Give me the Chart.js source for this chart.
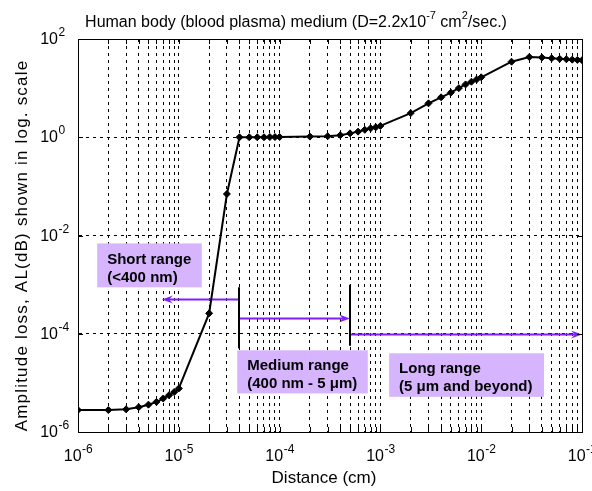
<!DOCTYPE html>
<html lang="en">
<head>
  <meta charset="UTF-8">
  <title>amplitude-loss-vs-distance</title>
  <script src="https://cdn.jsdelivr.net/npm/chart.js@4.4.6/dist/chart.umd.min.js"></script>
  <style>
    body { margin: 0; background: #ffffff; }
  </style>
</head>
<body>
<canvas id="myChart" width="592" height="491"></canvas>
<script>
// distance (cm) -- one point per 1..9 x 10^k
var distance = [
  1e-6, 2e-6, 3e-6, 4e-6, 5e-6, 6e-6, 7e-6, 8e-6, 9e-6,
  1e-5, 2e-5, 3e-5, 4e-5, 5e-5, 6e-5, 7e-5, 8e-5, 9e-5,
  1e-4, 2e-4, 3e-4, 4e-4, 5e-4, 6e-4, 7e-4, 8e-4, 9e-4,
  1e-3, 2e-3, 3e-3, 4e-3, 5e-3, 6e-3, 7e-3, 8e-3, 9e-3,
  1e-2, 2e-2, 3e-2, 4e-2, 5e-2, 6e-2, 7e-2, 8e-2, 9e-2,
  1e-1
];
// amplitude loss AL(dB)
var ampLoss = [
  2.8e-6, 2.8e-6, 2.9e-6, 3.2e-6, 3.6e-6, 4.1e-6, 4.8e-6, 5.6e-6, 6.5e-6,
  7.7e-6, 2.6e-4, 0.07, 1.0, 1.0, 1.0, 1.0, 1.01, 1.01,
  1.01, 1.03, 1.05, 1.1, 1.2, 1.3, 1.42, 1.52, 1.6,
  1.7, 3.1, 4.9, 6.5, 8.1, 10.0, 11.9, 13.5, 15.0,
  16.6, 34.5, 43.0, 42.0, 40.5, 39.5, 38.7, 38.0, 37.5,
  37.0
];
// grid lines / tick labels
var xGrid = distance;
var xLabelExp = [-6, -5, -4, -3, -2, -1];
var yGrid = [1e-6, 1e-4, 1e-2, 1e0, 1e2];
var yLabelExp = [-6, -4, -2, 0, 2];

// texts
var titleParts = [['Human body (blood plasma) medium (D=2.2x10', 0], ['-7', 1], [' cm', 0], ['2', 1], ['/sec.)', 0]];
var xTitle = 'Distance (cm)';
var yTitle = 'Amplitude loss, AL(dB) shown in log. scale';

// range annotations (data coordinates)
var rangeText = [
  ['Short range', '(<400 nm)'],
  ['Medium range', '(400 nm - 5 \u03bcm)'],
  ['Long range', '(5 \u03bcm and beyond)']
];
var rangeBox = [   // x left, x right, y top, y bottom
  [1.55e-6, 1.69e-5, 6.9e-3, 8.8e-4],
  [3.8e-5, 7.5e-4, 4.6e-5, 6.1e-6],
  [1.22e-3, 4.2e-2, 4.0e-5, 5.2e-6]
];
var rangeArrow = [ // x from, x to, y
  [4e-5, 6.8e-6, 5.2e-4],
  [4e-5, 5e-4, 2.1e-4],
  [5e-4, 1e-1, 1e-4]
];
var boundary = [   // x, y top, y bottom
  [4e-5, 8.8e-4, 5.0e-5],
  [5e-4, 1.0e-3, 5.7e-5]
];

var FONT = '"Liberation Sans", Arial, sans-serif';
var PURPLE = '#7f1fff';
var BOXFILL = '#d7b5fe';

function drawPow(ctx, x, y, exp, align) {
  ctx.font = '16px ' + FONT;
  var w1 = ctx.measureText('10').width;
  ctx.font = '12px ' + FONT;
  var e = String(exp);
  var w2 = ctx.measureText(e).width;
  var x0 = align === 'center' ? x - (w1 + w2) / 2 : x - w1;
  ctx.textAlign = 'left';
  ctx.textBaseline = 'alphabetic';
  ctx.font = '16px ' + FONT;
  ctx.fillText('10', x0, y);
  ctx.font = '12px ' + FONT;
  ctx.fillText(e, x0 + w1 + 0.5, y - 8);
}

var rangePlugin = {
  id: 'ranges',
  beforeDatasetsDraw: function(chart) {
    var ctx = chart.ctx, xs = chart.scales.x, ys = chart.scales.y;
    ctx.save();
    // boxes
    rangeBox.forEach(function(b, i) {
      var l = xs.getPixelForValue(b[0]), r = xs.getPixelForValue(b[1]);
      var t = ys.getPixelForValue(b[2]), bt = ys.getPixelForValue(b[3]);
      ctx.fillStyle = BOXFILL;
      ctx.fillRect(l, t, r - l, bt - t);
      ctx.fillStyle = '#000';
      ctx.font = 'bold 15px ' + FONT;
      ctx.textAlign = 'left';
      ctx.textBaseline = 'middle';
      ctx.fillText(rangeText[i][0], l + 10, t + 16);
      ctx.fillText(rangeText[i][1], l + 10, t + 34);
    });
    // arrows
    rangeArrow.forEach(function(a) {
      var x1 = xs.getPixelForValue(a[0]), x2 = xs.getPixelForValue(a[1]);
      var y = Math.round(ys.getPixelForValue(a[2])) + 0.5;
      var dir = x2 > x1 ? 1 : -1;
      ctx.strokeStyle = PURPLE;
      ctx.lineWidth = 2;
      ctx.beginPath();
      ctx.moveTo(x1, y);
      ctx.lineTo(x2 - dir * 6, y);
      ctx.stroke();
      ctx.fillStyle = PURPLE;
      ctx.beginPath();
      ctx.moveTo(x2, y);
      ctx.lineTo(x2 - dir * 11, y - 4);
      ctx.lineTo(x2 - dir * 7, y);
      ctx.lineTo(x2 - dir * 11, y + 4);
      ctx.closePath();
      ctx.fill();
    });
    // range boundaries
    boundary.forEach(function(b) {
      var x = Math.round(xs.getPixelForValue(b[0]));
      ctx.strokeStyle = '#000';
      ctx.lineWidth = 2;
      ctx.beginPath();
      ctx.moveTo(x, ys.getPixelForValue(b[1]));
      ctx.lineTo(x, ys.getPixelForValue(b[2]));
      ctx.stroke();
    });
    ctx.restore();
  }
};

var framePlugin = {
  id: 'frame',
  afterDraw: function(chart) {
    var ctx = chart.ctx, a = chart.chartArea, xs = chart.scales.x, ys = chart.scales.y;
    ctx.save();
    ctx.strokeStyle = '#000';
    ctx.lineWidth = 1;
    ctx.strokeRect(Math.round(a.left) + 0.5, Math.round(a.top) + 0.5,
      Math.round(a.right - a.left), Math.round(a.bottom - a.top));
    // inward tick marks
    ctx.beginPath();
    xGrid.forEach(function(v) {
      var x = Math.round(xs.getPixelForValue(v)) + 0.5;
      ctx.moveTo(x, a.bottom); ctx.lineTo(x, a.bottom - 5);
      ctx.moveTo(x, a.top); ctx.lineTo(x, a.top + 5);
    });
    yGrid.forEach(function(v) {
      var y = Math.round(ys.getPixelForValue(v)) + 0.5;
      ctx.moveTo(a.left, y); ctx.lineTo(a.left + 5, y);
      ctx.moveTo(a.right, y); ctx.lineTo(a.right - 5, y);
    });
    ctx.stroke();
    // tick labels with superscript exponents
    ctx.fillStyle = '#000';
    xLabelExp.forEach(function(e) {
      drawPow(ctx, xs.getPixelForValue(Math.pow(10, e)), a.bottom + 29, e, 'center');
    });
    yLabelExp.forEach(function(e) {
      drawPow(ctx, a.left - 20, ys.getPixelForValue(Math.pow(10, e)) + 5, e, 'right');
    });

    // chart title, with raised exponents
    ctx.textAlign = 'left';
    ctx.textBaseline = 'alphabetic';
    var w = 0;
    titleParts.forEach(function(p) {
      ctx.font = (p[1] ? '11px ' : '16px ') + FONT;
      w += ctx.measureText(p[0]).width;
    });
    var tx = chart.width / 2 - w / 2;
    titleParts.forEach(function(p) {
      ctx.font = (p[1] ? '11px ' : '16px ') + FONT;
      ctx.fillText(p[0], tx, p[1] ? 19 : 27);
      tx += ctx.measureText(p[0]).width;
    });

    // axis titles
    ctx.font = '17px ' + FONT;
    ctx.textAlign = 'center';
    ctx.textBaseline = 'middle';
    ctx.fillText(xTitle, (a.left + a.right) / 2 - 6, 478);
    ctx.save();
    ctx.translate(22, (a.top + a.bottom) / 2 + 10);
    ctx.rotate(-Math.PI / 2);
    ctx.letterSpacing = '1.2px';
    ctx.fillText(yTitle, 0, 0);
    ctx.restore();
    ctx.restore();
  }
};

var points = distance.map(function(d, i) { return { x: d, y: ampLoss[i] }; });

var ctx = document.getElementById('myChart');
var myChart = new Chart(ctx, {
  type: 'line',
  data: {
    datasets: [{
      label: 'AL',
      data: points,
      borderColor: '#000',
      backgroundColor: '#000',
      borderWidth: 2,
      pointStyle: 'rectRot',
      pointRadius: 3.5,
      pointBackgroundColor: '#000',
      pointBorderColor: '#000',
      pointBorderWidth: 1,
      tension: 0,
      fill: false
    }]
  },
  options: {
    responsive: false,
    animation: false,
    devicePixelRatio: 1,
    layout: { padding: { left: 0, right: 10, top: 39, bottom: 0 } },
    plugins: {
      legend: { display: false },
      tooltip: { enabled: false },
      title: { display: false }
    },
    scales: {
      x: {
        type: 'logarithmic',
        min: 1e-6,
        max: 1e-1,
        afterBuildTicks: function(s) { s.ticks = xGrid.map(function(v) { return { value: v }; }); },
        afterFit: function(s) { s.height = 59; s.paddingLeft = 0; s.paddingRight = 0; },
        ticks: { display: false },
        grid: { color: '#000', lineWidth: 1, drawTicks: false },
        border: { display: true, color: '#000', dash: [3, 4] }
      },
      y: {
        type: 'logarithmic',
        min: 1e-6,
        max: 1e2,
        afterBuildTicks: function(s) { s.ticks = yGrid.map(function(v) { return { value: v }; }); },
        afterFit: function(s) { s.width = 78; s.paddingTop = 0; s.paddingBottom = 0; },
        ticks: { display: false },
        grid: { color: '#000', lineWidth: 1, drawTicks: false },
        border: { display: true, color: '#000', dash: [3, 4] }
      }
    }
  },
  plugins: [rangePlugin, framePlugin]
});
</script>
</body>
</html>
